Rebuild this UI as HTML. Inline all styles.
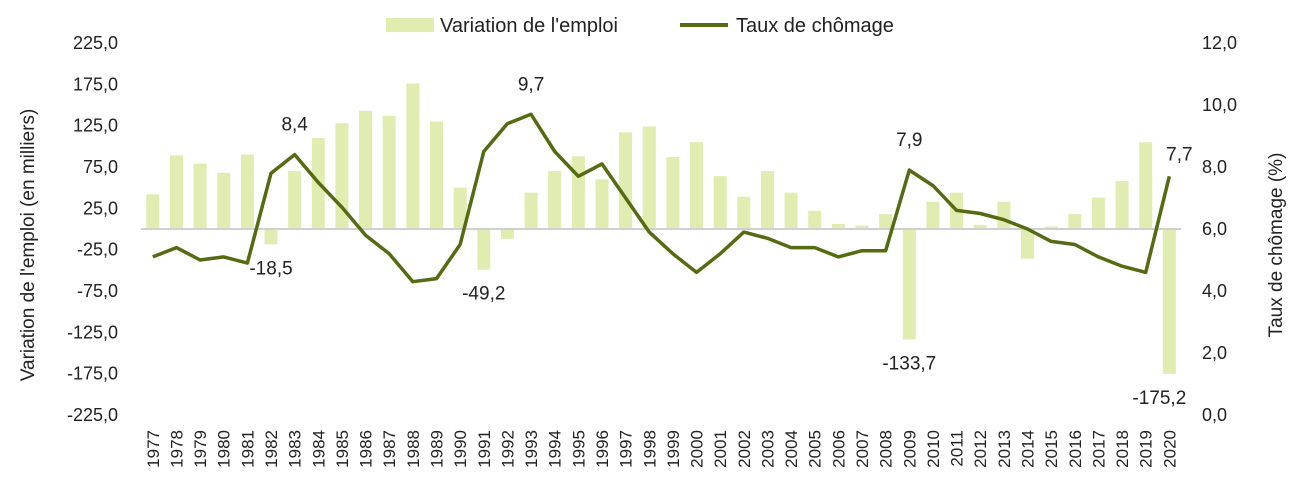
<!DOCTYPE html>
<html><head><meta charset="utf-8"><style>
html,body{margin:0;padding:0;background:#fff;}
svg{display:block;font-family:"Liberation Sans",sans-serif;}
</style></head><body>
<svg id="chart" width="1300" height="495" viewBox="0 0 1300 495" xmlns="http://www.w3.org/2000/svg">
<g id="legend">
  <rect x="386" y="18" width="48" height="14" fill="#e1ecb0"/>
  <text x="440" y="32" font-size="20" fill="#222">Variation de l'emploi</text>
  <line x1="680" y1="25" x2="728" y2="25" stroke="#546b12" stroke-width="4"/>
  <text x="736" y="32" font-size="20" fill="#222">Taux de chômage</text>
</g>
<text transform="translate(34,245) rotate(-90)" text-anchor="middle" font-size="19" fill="#222">Variation de l'emploi (en milliers)</text>
<text transform="translate(1282,245) rotate(-90)" text-anchor="middle" font-size="19" fill="#222">Taux de chômage (%)</text>
<g id="leftTicks"></g>
<g id="rightTicks"></g>
<g id="bars"></g>
<line id="zero" stroke="#d0d0d0" stroke-width="2"/>
<g id="lineg"></g>
<g id="xlabels"></g>
<g id="annots"></g>
</svg>
<script>
const years = [1977,1978,1979,1980,1981,1982,1983,1984,1985,1986,1987,1988,1989,1990,1991,1992,1993,1994,1995,1996,1997,1998,1999,2000,2001,2002,2003,2004,2005,2006,2007,2008,2009,2010,2011,2012,2013,2014,2015,2016,2017,2018,2019,2020];
const employment = [42,89,79,68,90,-18.5,70,110,128,143,137,176,130,50,-49.2,-12,44,70,88,60,117,124,87,105,64,39,70,44,22,6,4,18,-133.7,33,44,5,33,-36,3,18,38,58,105,-175.2];
const unemployment = [5.1,5.4,5.0,5.1,4.9,7.8,8.4,7.5,6.7,5.8,5.2,4.3,4.4,5.5,8.5,9.4,9.7,8.5,7.7,8.1,7.0,5.9,5.2,4.6,5.2,5.9,5.7,5.4,5.4,5.1,5.3,5.3,7.9,7.4,6.6,6.5,6.3,6.0,5.6,5.5,5.1,4.8,4.6,7.7];
const leftTickVals = [225,175,125,75,25,-25,-75,-125,-175,-225];
const rightTickVals = [12,10,8,6,4,2,0];
const barLabels = [[5,"-18,5"],[14,"-49,2"],[32,"-133,7"],[43,"-175,2"]];
const lineLabels = [[6,"8,4"],[16,"9,7"],[32,"7,9"],[43,"7,7"]];

(function(){
const NS="http://www.w3.org/2000/svg";
const plotL=141, step=23.64;
const xC=i=>plotL+step*(i+0.5);
const yL=v=>229-v*(186/225);
const yR=v=>229-(v-6)*31;
const fmt=v=>v.toFixed(1).replace('.',',');
function mk(tag,attrs,parent){const e=document.createElementNS(NS,tag);for(const k in attrs)e.setAttribute(k,attrs[k]);parent.appendChild(e);return e;}

const lt=document.getElementById('leftTicks');
leftTickVals.forEach(v=>{const t=mk('text',{x:118,y:yL(v)+6,'text-anchor':'end','font-size':18,fill:'#222'},lt);


t.textContent=fmt(v);});
const rt=document.getElementById('rightTicks');
rightTickVals.forEach(v=>{const t=mk('text',{x:1202,y:yR(v)+6,'font-size':18,fill:'#222'},rt);


t.textContent=fmt(v);});

const bg=document.getElementById('bars');
employment.forEach((v,i)=>{const y0=yL(0),y1=yL(v);
const r=mk('rect',{x:xC(i)-6.5,y:Math.min(y0,y1),width:13,height:Math.abs(y1-y0),fill:'#e1ecb0'},bg);

});
const z=document.getElementById('zero');
z.setAttribute('x1',plotL);z.setAttribute('x2',plotL+step*years.length);z.setAttribute('y1',yL(0));z.setAttribute('y2',yL(0));

const lg=document.getElementById('lineg');
const pl=mk('polyline',{points:unemployment.map((v,i)=>xC(i)+','+yR(v)).join(' '),fill:'none',stroke:'#546b12','stroke-width':3.5,'stroke-linejoin':'round'},lg);



const xl=document.getElementById('xlabels');
years.forEach((yr,i)=>{const t=mk('text',{transform:`translate(${xC(i)+6},430) rotate(-90)`,'text-anchor':'end','font-size':17,fill:'#222'},xl);


t.textContent=yr;});

const an=document.getElementById('annots');
barLabels.forEach(([i,s])=>{const v=employment[i];const t=mk('text',{x:xC(i)+(i===43?-10:0),y:yL(v)+30,'text-anchor':'middle','font-size':19,fill:'#222'},an);


t.textContent=s;});
lineLabels.forEach(([i,s])=>{const v=unemployment[i];const t=mk('text',{x:xC(i)+(i===43?10:0),y:yR(v)-(i===43?16:24),'text-anchor':'middle','font-size':19,fill:'#222'},an);


t.textContent=s;});
})();
</script>
</body></html>
